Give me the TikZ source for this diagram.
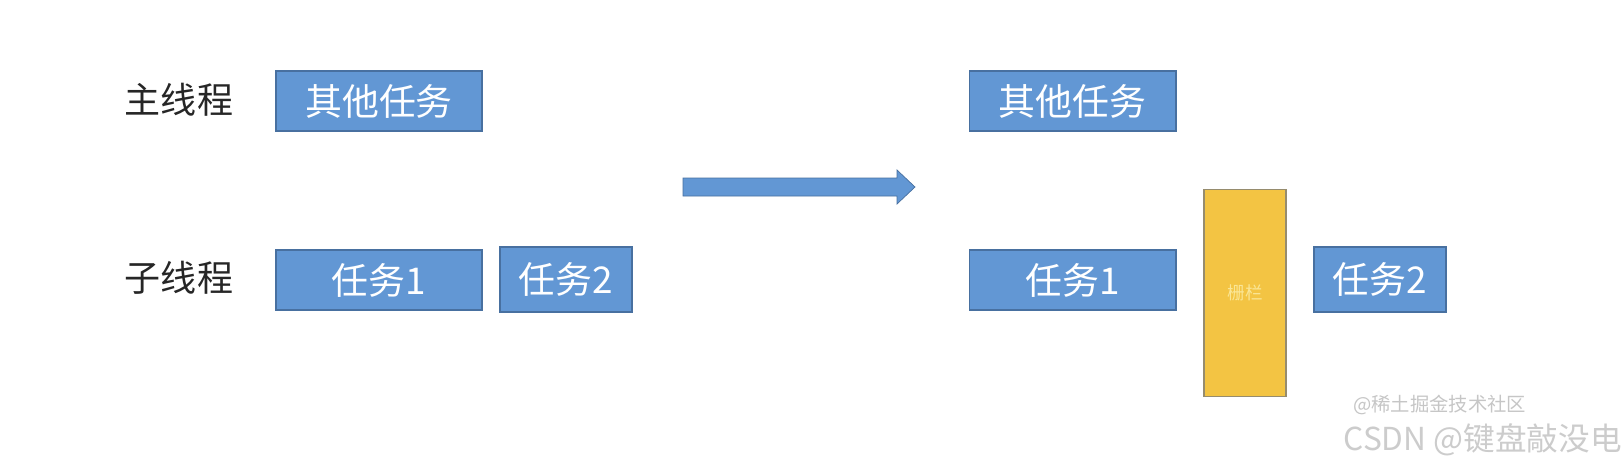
\documentclass[tikz,border=0pt]{standalone}
\usepackage{fontspec}
\usepackage{xcolor}
\usepackage{tikz}
\usetikzlibrary{positioning}
\setmainfont{Noto Sans CJK SC}
\definecolor{taskblue}{RGB}{98, 151, 212}
\definecolor{taskedge}{RGB}{72, 112, 160}
\definecolor{barrieryellow}{RGB}{243, 196, 67}
\definecolor{barrieredge}{RGB}{150, 140, 110}
\definecolor{barriertext}{RGB}{250, 230, 150}

\tikzset{
  task/.style={rectangle, fill=taskblue, draw=taskedge, line width=0.6pt,
    text=white, font=\fontsize{21}{24}\selectfont, inner sep=0pt,
    minimum height=1.2cm},
  threadlabel/.style={font=\fontsize{20.5}{24}\selectfont, text=black!85},
  barrier/.style={rectangle, fill=barrieryellow, draw=barrieredge, line width=0.6pt,
    text=barriertext, font=\fontsize{10}{12}\selectfont, inner sep=0pt,
    minimum width=1.64cm, minimum height=4.14cm}
}

\begin{document}
\begin{tikzpicture}[x=0.02cm, y=-0.02cm]
  \useasboundingbox[fill=white] (0,0) rectangle (1624,470);
  % Before: thread labels and tasks
  \node[threadlabel] (mainlbl) at (179,100) {主线程};
  \node[threadlabel] (sublbl) at (179,278) {子线程};
  \node[task, minimum width=4.12cm] (other) at (379,101) {其他任务};
  \node[task, minimum width=4.12cm] (taskA) at (379,280) {任务1};
  \node[task, minimum width=2.64cm, minimum height=1.3cm] (taskB) at (566,279.5) {任务2};
  % Block arrow between the two states
  \fill[taskblue, draw=taskedge, line width=0.4pt]
    (683,178) -- (897,178) -- (897,170) -- (915,187) -- (897,204)
    -- (897,196) -- (683,196) -- cycle;
  % After: barrier between task 1 and task 2
  \node[task, minimum width=4.14cm] (otherR) at (1072.5,101) {其他任务};
  \node[task, minimum width=4.14cm] (taskAR) at (1072.5,280) {任务1};
  \node[barrier] (fence) at (1245,293) {栅栏};
  \node[task, minimum width=2.64cm, minimum height=1.3cm] (taskBR) at (1380,279.5) {任务2};
  % Watermarks
  \node[text=gray!45, font=\fontsize{11}{13}\selectfont, anchor=west, inner sep=0pt] (wmA) at (1353,405) {@稀土掘金技术社区};
  \node[text=gray!40, font=\fontsize{18}{20}\selectfont, anchor=east, inner sep=0pt] (wmB) at (1622,440) {CSDN @键盘敲没电};
\end{tikzpicture}
\end{document}
